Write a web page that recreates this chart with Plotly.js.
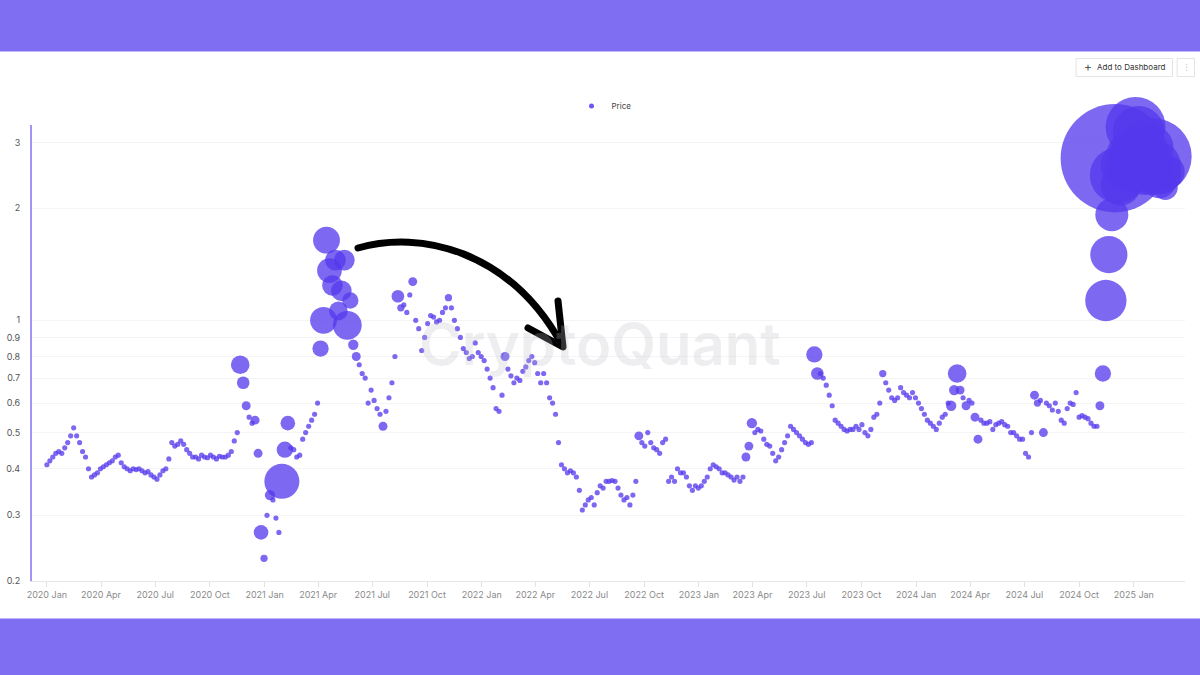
<!DOCTYPE html>
<html><head><meta charset="utf-8">
<script src="https://cdn.plot.ly/plotly-3.0.1.min.js"></script>
<style>
html,body{margin:0;padding:0;background:#fff;}
#chart{width:1200px;height:675px;}
.shapelayer path{stroke-linecap:round;stroke-linejoin:round;}
</style>
</head><body><div id="chart"></div>
<script>
// ---- data ----
const startDate = '2020-01-01';
const stepDays = 5;
const seriesName = 'Price';

const price = [
  0.41, 0.42, 0.43, 0.44, 0.445, 0.44, 0.455, 0.47, 0.49, 0.515,
  0.49, 0.47, 0.445, 0.43, 0.40, 0.38, 0.385, 0.39, 0.40, 0.405,
  0.41, 0.415, 0.42, 0.43, 0.435, 0.415, 0.405, 0.40, 0.395, 0.40,
  0.398, 0.40, 0.395, 0.39, 0.393, 0.385, 0.38, 0.375, 0.385, 0.395,
  0.40, 0.425, 0.47, 0.46, 0.465, 0.475, 0.465, 0.45, 0.44, 0.43,
  0.43, 0.425, 0.435, 0.43, 0.428, 0.435, 0.43, 0.425, 0.432, 0.43,
  0.43, 0.435, 0.445, 0.475, 0.50, 0.76, 0.68, 0.59, 0.55, 0.53,
  0.54, 0.44, 0.27, 0.23, 0.30, 0.34, 0.33, 0.295, 0.27, 0.37,
  0.45, 0.53, 0.455, 0.45, 0.43, 0.435, 0.48, 0.50, 0.52, 0.54,
  0.56, 0.60, 0.84, 1.0, 1.64, 1.36, 1.24, 1.45, 1.06, 1.2,
  1.45, 0.97, 1.13, 0.86, 0.80, 0.76, 0.72, 0.70, 0.60, 0.65,
  0.61, 0.58, 0.56, 0.52, 0.57, 0.62, 0.68, 0.80, 1.16, 1.08,
  1.10, 1.05, 1.17, 1.27, 1.0, 0.95, 0.83, 0.90, 0.98, 1.03,
  1.02, 0.99, 1.0, 1.05, 1.08, 1.15, 1.08, 1.0, 0.95, 0.90,
  0.84, 0.82, 0.79, 0.80, 0.87, 0.82, 0.80, 0.78, 0.74, 0.70,
  0.66, 0.58, 0.57, 0.63, 0.80, 0.74, 0.71, 0.68, 0.70, 0.69,
  0.73, 0.75, 0.78, 0.80, 0.77, 0.72, 0.68, 0.72, 0.68, 0.62,
  0.60, 0.56, 0.47, 0.41, 0.40, 0.39, 0.395, 0.39, 0.38, 0.35,
  0.31, 0.32, 0.33, 0.335, 0.32, 0.345, 0.36, 0.355, 0.37, 0.37,
  0.372, 0.37, 0.355, 0.34, 0.33, 0.335, 0.32, 0.34, 0.37, 0.49,
  0.47, 0.46, 0.50, 0.47, 0.455, 0.45, 0.44, 0.47, 0.48, 0.37,
  0.38, 0.37, 0.40, 0.39, 0.39, 0.38, 0.36, 0.35, 0.36, 0.355,
  0.36, 0.37, 0.38, 0.40, 0.41, 0.405, 0.40, 0.39, 0.39, 0.385,
  0.38, 0.373, 0.38, 0.37, 0.38, 0.43, 0.46, 0.53, 0.50, 0.51,
  0.505, 0.48, 0.465, 0.46, 0.44, 0.42, 0.43, 0.45, 0.47, 0.49,
  0.52, 0.51, 0.50, 0.49, 0.48, 0.47, 0.465, 0.47, 0.81, 0.72,
  0.72, 0.70, 0.67, 0.63, 0.59, 0.54, 0.53, 0.52, 0.51, 0.505,
  0.51, 0.51, 0.52, 0.51, 0.525, 0.50, 0.49, 0.51, 0.55, 0.56,
  0.60, 0.72, 0.68, 0.65, 0.62, 0.61, 0.62, 0.66, 0.64, 0.63,
  0.62, 0.64, 0.62, 0.60, 0.58, 0.56, 0.54, 0.53, 0.52, 0.51,
  0.53, 0.55, 0.56, 0.60, 0.59, 0.65, 0.72, 0.65, 0.62, 0.59,
  0.61, 0.60, 0.55, 0.48, 0.54, 0.53, 0.53, 0.535, 0.51, 0.525,
  0.53, 0.535, 0.525, 0.52, 0.50, 0.50, 0.49, 0.48, 0.48, 0.44,
  0.43, 0.50, 0.63, 0.60, 0.61, 0.50, 0.60, 0.59, 0.575, 0.60,
  0.57, 0.54, 0.53, 0.58, 0.60, 0.595, 0.64, 0.55, 0.555, 0.55,
  0.545, 0.53, 0.52, 0.52, 0.59, 0.72, 1.13, 1.5, 1.92, 2.72,
  2.45, 2.3, 2.6, 2.8, 2.55, 2.9, 3.3, 3.2, 2.7, 2.5,
  2.6, 2.9, 2.75, 2.6, 2.35, 2.45, 2.27, 2.5
];

const activity = [
  1, 1, 1, 1, 1, 1, 1, 1, 1, 1,
  1, 1, 1, 1, 1, 1, 1, 1, 1, 1,
  1, 1, 1, 1, 1, 1, 1, 1, 1, 1,
  1, 1, 1, 1, 1, 1, 1, 1, 1, 1,
  1, 1, 1, 1, 1, 1, 1, 1, 1, 1,
  1, 1, 1, 1, 1, 1, 1, 1, 1, 1,
  1, 1, 1, 1, 1, 13, 6, 3, 1, 1,
  3, 3, 8, 2, 1, 4, 1, 1, 1, 46,
  10, 8, 1, 1, 1, 1, 1, 1, 1, 1,
  1, 1, 10, 27, 27, 23, 16, 16, 13, 16,
  16, 31, 10, 4, 3, 1, 1, 1, 1, 1,
  1, 1, 1, 3, 1, 1, 1, 1, 6, 2,
  1, 1, 1, 3, 1, 1, 1, 1, 1, 1,
  1, 1, 1, 1, 1, 2, 1, 1, 1, 1,
  1, 1, 1, 1, 1, 1, 1, 1, 1, 1,
  1, 1, 1, 1, 3, 1, 1, 1, 1, 1,
  1, 1, 1, 1, 1, 1, 1, 1, 1, 1,
  1, 1, 1, 1, 1, 1, 1, 1, 1, 1,
  1, 1, 1, 1, 1, 1, 1, 1, 1, 1,
  1, 1, 1, 1, 1, 1, 1, 1, 1, 3,
  1, 1, 1, 1, 1, 1, 1, 1, 1, 1,
  1, 1, 1, 1, 1, 1, 1, 1, 1, 1,
  1, 1, 1, 1, 1, 1, 1, 1, 1, 1,
  1, 1, 1, 1, 1, 3, 3, 4, 1, 1,
  1, 1, 1, 1, 1, 1, 1, 1, 1, 1,
  1, 1, 1, 1, 1, 1, 1, 1, 10, 6,
  1, 1, 1, 1, 1, 1, 1, 1, 1, 1,
  1, 1, 1, 1, 1, 1, 1, 1, 1, 1,
  1, 2, 1, 1, 1, 1, 1, 1, 1, 1,
  1, 1, 1, 1, 1, 1, 1, 1, 1, 1,
  1, 1, 1, 1, 4, 4, 13, 3, 1, 3,
  1, 1, 3, 3, 1, 1, 1, 1, 1, 1,
  1, 1, 1, 1, 1, 1, 1, 1, 1, 1,
  1, 1, 3, 2, 1, 3, 1, 1, 1, 1,
  1, 1, 1, 1, 1, 1, 1, 1, 1, 1,
  1, 1, 1, 1, 3, 10, 64, 52, 41, 440,
  117, 60, 80, 60, 90, 70, 135, 100, 60, 80,
  100, 80, 219, 90, 40, 52, 23, 40
];

const yTickVals = [0.2, 0.3, 0.4, 0.5, 0.6, 0.7, 0.8, 0.9, 1, 2, 3];
const yTickText = ['0.2', '0.3', '0.4', '0.5', '0.6', '0.7', '0.8', '0.9', '1', '2', '3'];
const xRange = ['2019-12-07', '2025-03-28'];
const yRange = [0.2, 3.34];

// ---- build ----
const t0 = Date.parse(startDate + 'T00:00:00Z');
const dates = price.map((_, i) => new Date(t0 + i * stepDays * 86400000).toISOString().slice(0, 10));

const dotColor = 'rgb(84,56,236)';

const traces = [
  {
    type: 'scatter', mode: 'markers', x: dates, y: price, name: seriesName,
    showlegend: false, cliponaxis: false, hoverinfo: 'skip',
    marker: { size: activity, sizemode: 'area', sizeref: 0.075, color: dotColor, opacity: 0.76, line: { width: 0 } }
  },
  {
    type: 'scatter', mode: 'markers', x: [null], y: [null], name: seriesName,
    marker: { size: 5, color: dotColor, opacity: 0.85 }
  }
];

// plot geometry helpers (paper coords)
const L = 32, R = 1185, T = 125, B = 581;
const px = x => (x - L) / (R - L);
const py = y => (B - y) / (B - T);

const band = '#7f6ef2';
const shapes = [
  { type: 'rect', xref: 'paper', yref: 'paper', x0: px(-5), x1: px(1205), y0: py(51.5), y1: py(-5), fillcolor: band, line: { width: 0 } },
  { type: 'rect', xref: 'paper', yref: 'paper', x0: px(-5), x1: px(1205), y0: py(618.5), y1: py(680), fillcolor: band, line: { width: 0 } },
  { type: 'rect', xref: 'paper', yref: 'paper', x0: px(1076.5), x1: px(1172.5), y0: py(76.5), y1: py(58.5), fillcolor: '#fff', line: { color: '#e4e4e4', width: 1 } },
  { type: 'rect', xref: 'paper', yref: 'paper', x0: px(1177.5), x1: px(1194.5), y0: py(76.5), y1: py(58.5), fillcolor: '#fff', line: { color: '#e4e4e4', width: 1 } },
  { type: 'path', xref: 'paper', yref: 'paper',
    path: `M ${px(358)} ${py(248)} C ${px(420)} ${py(230)} ${px(510)} ${py(250)} ${px(562)} ${py(345)}`,
    line: { color: '#000', width: 7 } },
  { type: 'path', xref: 'paper', yref: 'paper',
    path: `M ${px(558)} ${py(301)} L ${px(563)} ${py(347)} L ${px(528)} ${py(328)}`,
    line: { color: '#000', width: 7 } }
];

const annotations = [
  { xref: 'paper', yref: 'paper', x: px(600), y: py(344), xanchor: 'center', yanchor: 'middle', text: 'CryptoQuant', showarrow: false,
    font: { family: 'Inter, sans-serif', size: 58, color: 'rgba(190,190,200,0.26)', weight: 600 } },
  { xref: 'paper', yref: 'paper', x: px(1087.5), y: py(67), xanchor: 'center', yanchor: 'middle', text: '+', showarrow: false,
    font: { family: 'Inter, sans-serif', size: 12, color: '#555' } },
  { xref: 'paper', yref: 'paper', x: px(1131), y: py(67), xanchor: 'center', yanchor: 'middle', text: 'Add to Dashboard', showarrow: false,
    font: { family: 'Inter, sans-serif', size: 8, color: '#333' } },
  { xref: 'paper', yref: 'paper', x: px(1186), y: py(67), xanchor: 'center', yanchor: 'middle', text: '⋮', showarrow: false,
    font: { family: 'DejaVu Sans, sans-serif', size: 9, color: '#c8c8c8' } }
];

const layout = {
  width: 1200, height: 675,
  margin: { l: L, r: 1200 - R, t: T, b: 675 - B },
  paper_bgcolor: '#fff', plot_bgcolor: '#fff',
  font: { family: 'Inter, sans-serif', size: 9, color: '#666' },
  hovermode: false,
  showlegend: true,
  legend: { orientation: 'h', x: px(604), xanchor: 'center', y: py(106), yanchor: 'middle',
            font: { size: 8, color: '#444' }, bgcolor: 'rgba(0,0,0,0)' },
  xaxis: {
    type: 'date', range: xRange, tick0: '2020-01-01', dtick: 'M3', tickformat: '%Y %b',
    ticks: 'outside', ticklen: 5, tickcolor: '#e2e2e2', showline: true, linecolor: '#e6e6e6', linewidth: 1,
    showgrid: false, zeroline: false, tickfont: { size: 9, color: '#8a8a8a' }
  },
  yaxis: {
    type: 'log', range: [Math.log10(yRange[0]), Math.log10(yRange[1])],
    tickmode: 'array', tickvals: yTickVals, ticktext: yTickText,
    showline: true, linecolor: '#a094f7', linewidth: 2, gridcolor: '#f4f4f4', zeroline: false,
    ticks: '', ticklabelstandoff: 8, tickfont: { size: 9, color: '#555' }
  },
  shapes: shapes,
  annotations: annotations
};

Plotly.newPlot('chart', traces, layout, { displayModeBar: false, staticPlot: true });
</script>
</body></html>
